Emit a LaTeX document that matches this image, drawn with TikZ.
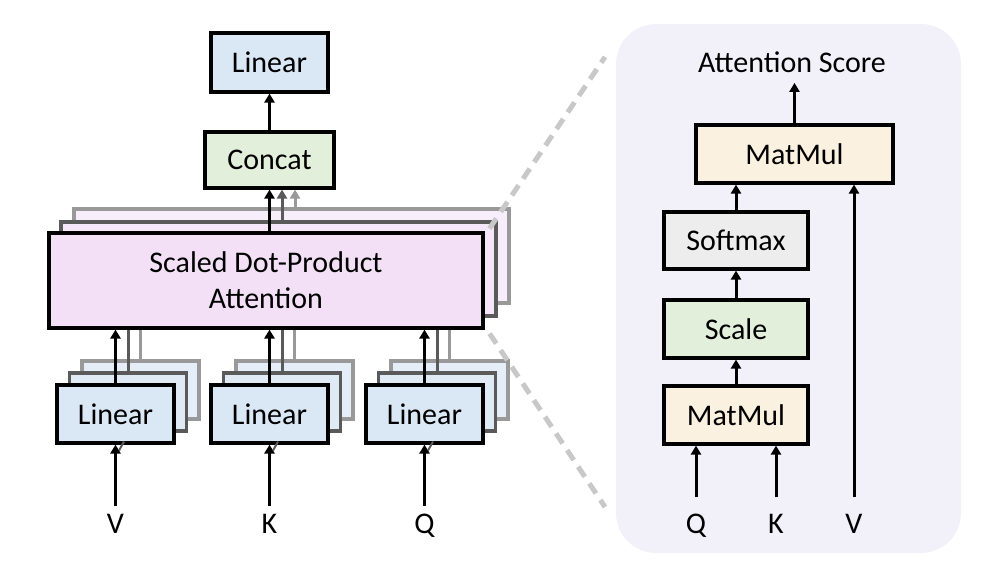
\documentclass[tikz,border=0pt]{standalone}
\usepackage{fontspec}
\setmainfont{Carlito}
\usetikzlibrary{arrows.meta}
\definecolor{blue1}{HTML}{DAE7F4}
\definecolor{blue2}{HTML}{DFEAF5}
\definecolor{blue3}{HTML}{E5EEF8}
\definecolor{pink1}{HTML}{F3E0F7}
\definecolor{pink2}{HTML}{F5E6F9}
\definecolor{pink3}{HTML}{F8EEFB}
\definecolor{green1}{HTML}{E2EFDA}
\definecolor{cream}{HTML}{FBF1E0}
\definecolor{softgray}{HTML}{EDEDED}
\definecolor{panel}{HTML}{F2F1FA}
\definecolor{dashgray}{HTML}{C8C8C8}
\definecolor{gray2}{HTML}{5A5A5A}
\definecolor{gray3}{HTML}{999999}
\begin{document}
\begin{tikzpicture}[x=0.5pt,y=-0.5pt,
  every node/.style={font=\fontsize{15}{18}\selectfont, inner sep=0pt},
  box/.style={draw=black, line width=1.55pt, align=center},
  backtwo/.style={draw=gray2},
  backthree/.style={draw=gray3},
  arr/.style={line width=1.5pt, -{Triangle[width=5pt,length=4.5pt]}},
  garr/.style={line width=1.5pt, draw=gray2, -{Triangle[width=5pt,length=4.5pt]}},
  larr/.style={line width=1.5pt, draw=gray3, -{Triangle[width=5pt,length=4.5pt]}},
  gline/.style={line width=1.5pt, draw=gray2},
  lline/.style={line width=1.5pt, draw=gray3},
  linbox/.style={box, minimum width=58.5pt, minimum height=29pt},
  zoomline/.style={line width=2.5pt, draw=dashgray, dash pattern=on 6pt off 4pt}
]
\useasboundingbox (0,0) rectangle (1002,578);

% ---------- left: multi-head attention ----------
\node[box, backthree, fill=pink3, minimum width=217.5pt, minimum height=47pt] (sd3) at (291.5,256) {};
\node[box, backtwo, fill=pink2, minimum width=217.5pt, minimum height=47pt] (sd2) at (278.5,269) {};
\node[box, fill=pink1, minimum width=217pt, minimum height=47.5pt] (sdpa) at (266,280.5) {Scaled Dot-Product\\Attention};

\node[box, fill=green1, minimum width=64.5pt, minimum height=28pt] (concat) at (269.5,160) {Concat};
\node[box, fill=blue1, minimum width=58.5pt, minimum height=29.5pt] (lintop) at (269.5,62.5) {Linear};

\draw[arr] (concat.north) -- (lintop.south);
\draw[larr] (sd3.north -| 295,0) -- (295,0 |- concat.south);
\draw[garr] (sd2.north -| 282,0) -- (282,0 |- concat.south);
\draw[arr] (sdpa.north -| concat.south) -- (concat.south);

\foreach \n/\x/\lab in {v/115.5/V,k/269.5/K,q/424.5/Q}{
  \node[linbox, backthree, fill=blue3] (lc\n) at (\x+25,390) {};
  \node[linbox, backtwo, fill=blue2] (lb\n) at (\x+12.5,402) {};
  \node[linbox, fill=blue1] (la\n) at (\x,414) {Linear};
  \node[anchor=base] (in\n) at (\x,533) {\lab};
  \draw[arr, shorten <=3.5pt] (in\n.north) -- (la\n.south);
  \draw[line width=1pt, draw=gray2] (la\n.south) ++(8.5,-3) -- ++(-5,9);
  \draw[lline] (lc\n.north) -- (lc\n.north |- sdpa.south);
  \draw[gline] (lb\n.north) -- (lb\n.north |- sdpa.south);
  \draw[arr] (la\n.north) -- (la\n.north |- sdpa.south);
}

% ---------- right: scaled dot-product attention ----------
\fill[panel, rounded corners=20pt] (616,24) rectangle (961,553);

\node (score) at (792,62) {Attention Score};
\node[box, fill=cream, minimum width=98.5pt, minimum height=29pt] (mmtop) at (794.5,154) {MatMul};
\node[box, fill=softgray, minimum width=72pt, minimum height=28.5pt] (softmax) at (736,240.5) {Softmax};
\node[box, fill=green1, minimum width=72pt, minimum height=29pt] (scale) at (736,329) {Scale};
\node[box, fill=cream, minimum width=72pt, minimum height=29pt] (mmbot) at (736,415) {MatMul};

\node[anchor=base] (qr) at (696,533) {Q};
\node[anchor=base] (kr) at (776,533) {K};
\node[anchor=base] (vr) at (854,533) {V};

\draw[arr, shorten >=5pt] (mmtop.north) -- (mmtop.north |- score.south);
\draw[arr] (softmax.north) -- (softmax.north |- mmtop.south);
\draw[arr] (scale.north) -- (softmax.south);
\draw[arr] (mmbot.north) -- (scale.south);
\draw[arr, shorten <=8pt] (qr.north) -- (qr.north |- mmbot.south);
\draw[arr, shorten <=8pt] (kr.north) -- (kr.north |- mmbot.south);
\draw[arr, shorten <=8pt] (vr.north) -- (vr.north |- mmtop.south);

% ---------- zoom lines ----------
\coordinate (zt) at (605,57);
\coordinate (zb) at (605,507);
\draw[zoomline] (sd3.north east) ++(-21,21) -- (zt);
\draw[zoomline] (sdpa.south east) ++(5,4) -- (zb);
\end{tikzpicture}
\end{document}
